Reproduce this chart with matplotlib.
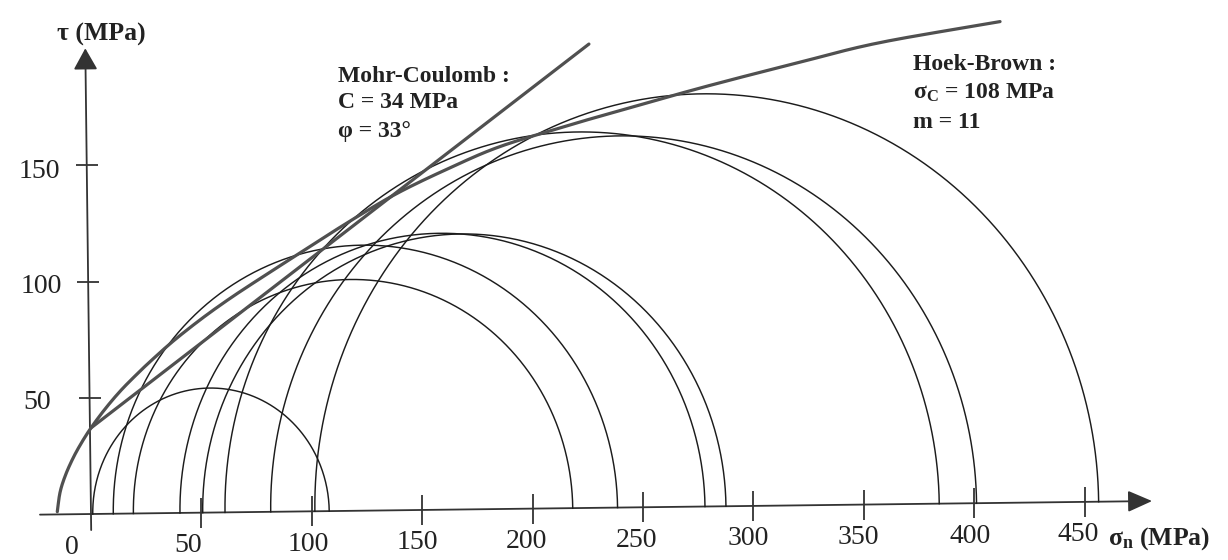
import numpy as np
import matplotlib
matplotlib.use("Agg")
import matplotlib.pyplot as plt
from matplotlib.transforms import Affine2D
from matplotlib.patches import FancyArrowPatch

# ---------------- data (MPa) ----------------
circle_left = [0.8, 10.1, 19.2, 40.3, 50.6, 60.7, 81.4, 101.4]
circle_right = [107.9, 238.5, 218.2, 278.1, 287.6, 384.2, 401.1, 456.4]

mc_sigma = [0.3, 228.1]
mc_tau = [36.9, 199.5]

hb_sigma = [-15.25, -13.92, -11.57, -8.31, -4.6, 0.34, 6.92, 13.81, 20.69, 27.57,
            38.0, 50.43, 61.8, 73.27, 96.1, 118.9, 140.4, 164.5, 187.3, 217.6,
            232.7, 278.2, 323.6, 359.9, 414.4]
hb_tau = [1.17, 9.37, 16.31, 23.2, 29.6, 36.86, 45.05, 52.58, 59.1, 65.2,
          73.8, 82.9, 90.5, 97.6, 111.2, 124.6, 136.3, 147.0, 155.9, 164.4,
          168.4, 180.0, 190.6, 198.6, 207.0]

x_ticks = [0, 50, 100, 150, 200, 250, 300, 350, 400, 450]
x_tick_labels = ["0", "50", "100", "150", "200", "250", "300", "350", "400", "450"]
y_ticks = [50, 100, 150]
y_tick_labels = ["50", "100", "150"]

x_axis_range = [-23.1, 480.6]
y_axis_range = [-6.9, 200.3]

# ---------------- style ----------------
plt.rcParams["font.family"] = ["Liberation Serif", "DejaVu Serif"]
plt.rcParams["mathtext.fontset"] = "custom"
plt.rcParams["mathtext.rm"] = "Liberation Serif"
plt.rcParams["mathtext.bf"] = "Liberation Serif:bold"
plt.rcParams["mathtext.it"] = "Liberation Serif:italic"

W, H = 1228, 560
fig = plt.figure(figsize=(W / 100, H / 100), dpi=100)
ax = fig.add_axes([0, 0, 1, 1])
ax.set_xlim(-41.21, 514.95)
ax.set_ylim(-19.78, 221.08)
ax.axis("off")

# slight rotation of the scanned drawing
tr = ax.transData + Affine2D().rotate_deg_around(91, 46, 0.7)

circ_col = "#1c1c1c"
thick_col = "#505050"
axis_col = "#333333"
text_col = "#222222"


def smooth_path(xs, ys, n=12):
    """Catmull-Rom rendering through the given points (drawing only)."""
    p = np.column_stack([xs, ys]).astype(float)
    p = np.vstack([2 * p[0] - p[1], p, 2 * p[-1] - p[-2]])
    out = []
    s = np.linspace(0, 1, n, endpoint=False)[:, None]
    for i in range(1, len(p) - 2):
        p0, p1, p2, p3 = p[i - 1], p[i], p[i + 1], p[i + 2]
        seg = 0.5 * ((2 * p1) + (-p0 + p2) * s + (2 * p0 - 5 * p1 + 4 * p2 - p3) * s ** 2
                     + (-p0 + 3 * p1 - 3 * p2 + p3) * s ** 3)
        out.append(seg)
    out.append(p[-2][None, :])
    out = np.vstack(out)
    return out[:, 0], out[:, 1]


# Mohr circles
t = np.linspace(0, np.pi, 400)
for a, b in zip(circle_left, circle_right):
    c = (a + b) / 2.0
    r = (b - a) / 2.0
    ax.plot(c + r * np.cos(t), r * np.sin(t), color=circ_col, lw=1.05, transform=tr)

# envelopes
ax.plot(mc_sigma, mc_tau, color=thick_col, lw=2.3, solid_capstyle="round", transform=tr)
hx, hy = smooth_path(hb_sigma, hb_tau)
ax.plot(hx, hy, color=thick_col, lw=2.3, solid_capstyle="round",
        solid_joinstyle="round", transform=tr)

# axes with arrows
xa = FancyArrowPatch((x_axis_range[0], 0), (x_axis_range[1], 0), transform=tr,
                     arrowstyle="-|>,head_length=0.75,head_width=0.33",
                     mutation_scale=20, lw=1.3, color=axis_col, shrinkA=0, shrinkB=0)
ax.add_patch(xa)
ya = FancyArrowPatch((0, y_axis_range[0]), (0, y_axis_range[1]), transform=tr,
                     arrowstyle="-|>,head_length=0.66,head_width=0.37",
                     mutation_scale=20, lw=1.3, color=axis_col, shrinkA=0, shrinkB=0)
ax.add_patch(ya)

# tick marks
ax.plot(x_ticks[1:], [0] * (len(x_ticks) - 1), ls="none", marker="|", ms=21,
        mew=1.3, color=axis_col, transform=tr)
ax.plot([0] * len(y_ticks), y_ticks, ls="none", marker="_", ms=16.5,
        mew=1.3, color=axis_col, transform=tr)

# tick labels
x_lab_dx = [-19, -13, -3, -5, -6, -6, -5, -5.5, -4.3, -6]
for v, lab, dx in zip(x_ticks, x_tick_labels, x_lab_dx):
    ax.annotate(lab, xy=(v, 0), xycoords=tr, xytext=(dx, -33),
                textcoords="offset pixels", ha="center", va="center",
                fontsize=20, color=text_col)
y_lab_off = [(-52, -5), (-47, -5), (-47, -6)]
for v, lab, off in zip(y_ticks, y_tick_labels, y_lab_off):
    ax.annotate(lab, xy=(0, v), xycoords=tr, xytext=off,
                textcoords="offset pixels", ha="center", va="center",
                fontsize=20, color=text_col)

# axis titles
fig.text(101.5 / W, 1 - 41 / H, "τ (MPa)", fontsize=18.5, fontweight="bold",
         ha="center", va="baseline", color=text_col)
fig.text(1108 / W, 1 - 545 / H, r"σ$_{\mathbf{n}}$ (MPa)", fontsize=18.5,
         fontweight="bold", ha="left", va="baseline", color=text_col)

# annotations
for txt, yb in [("Mohr-Coulomb :", 81.7), ("C = 34 MPa", 108.3), ("φ = 33°", 136.7)]:
    fig.text(338 / W, 1 - yb / H, txt, fontsize=17, fontweight="bold",
             ha="left", va="baseline", color=text_col)
for txt, yb in [("Hoek-Brown :", 70), (r"σ$_{\mathbf{C}}$ = 108 MPa", 98.3), ("m = 11", 127.7)]:
    fig.text(913 / W, 1 - yb / H, txt, fontsize=17, fontweight="bold",
             ha="left", va="baseline", color=text_col)

fig.savefig("out.png", dpi=100)
